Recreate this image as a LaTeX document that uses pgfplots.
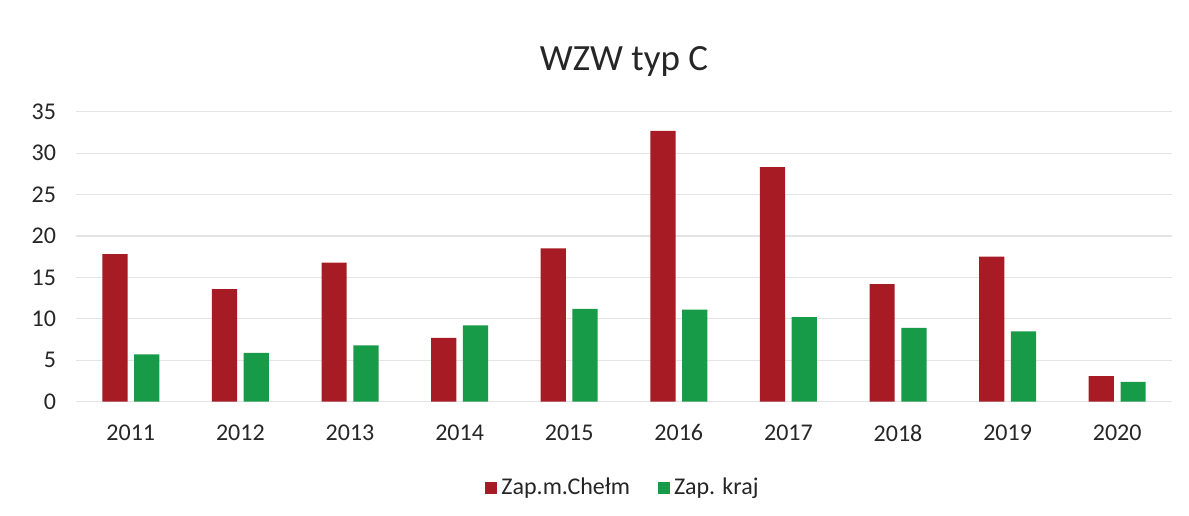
\documentclass[border=0pt]{standalone}
\usepackage{fontspec}
\setmainfont{Carlito}
\usepackage{pgfplots}
\pgfplotsset{compat=1.18}
\definecolor{chelm}{RGB}{166,27,36}
\definecolor{kraj}{RGB}{24,155,72}
\definecolor{gridc}{RGB}{228,228,228}
\begin{document}
\begin{tikzpicture}[x=1pt,y=1pt]
% page frame: 1189x515 px at 0.5pt per px
\path (-38pt,-56.65pt) rectangle (556.5pt,200.85pt);
\begin{axis}[
    at={(0pt,0pt)}, anchor=south west,
    scale only axis,
    width=548pt, height=145pt,
    ybar,
    bar width=0.23,
    xmin=-0.5, xmax=9.5,
    ymin=0, ymax=35,
    xtick={0,...,9},
    xticklabels={2011,2012,2013,2014,2015,2016,2017,2018,2019,2020},
    ytick={0,5,...,35},
    ymajorgrids,
    grid style={gridc, line width=0.6pt},
    axis x line*=bottom,
    axis y line*=left,
    y axis line style={draw=none},
    x axis line style={gridc, line width=0.6pt},
    major tick length=0pt,
    tick label style={font=\fontsize{12}{14}\selectfont, text=black!85},
    /pgf/number format/assume math mode=true,
    yticklabel style={xshift=-6.5pt},
    xticklabel style={yshift=-8pt},
    title={WZW typ C},
    title style={font=\fontsize{18.5}{22}\selectfont, text=black!85, at={(0.5,1.131)}, anchor=center},
    legend columns=2,
    legend style={draw=none, at={(0.5,-0.297)}, anchor=center,
        font=\fontsize{12}{14}\selectfont, text=black!85,
        /tikz/every even column/.append style={column sep=12pt}},
    legend image code/.code={\fill[#1] (0pt,-3pt) rectangle (6pt,3pt);},
]
\addplot[fill=chelm, draw=none, bar shift=-0.145] coordinates {
(0,17.8) (1,13.6) (2,16.8) (3,7.7) (4,18.5) (5,32.7) (6,28.3) (7,14.2) (8,17.5) (9,3.1)};
\addplot[fill=kraj, draw=none, bar shift=0.145] coordinates {
(0,5.7) (1,5.9) (2,6.8) (3,9.2) (4,11.2) (5,11.1) (6,10.2) (7,8.9) (8,8.5) (9,2.4)};
\legend{Zap.m.Chełm, Zap. kraj}
\end{axis}
\end{tikzpicture}
\end{document}
